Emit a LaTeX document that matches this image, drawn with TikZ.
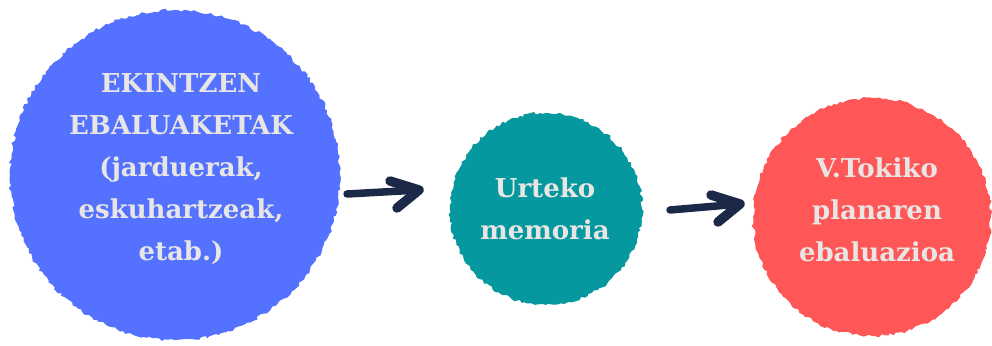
\documentclass[tikz,border=0pt]{standalone}
\usepackage{fontspec}
\newfontfamily\lblfont{DejaVu Serif}
\usetikzlibrary{decorations.pathmorphing}
\definecolor{blobblue}{HTML}{5472FF}
\definecolor{blobteal}{HTML}{05989E}
\definecolor{blobred}{HTML}{FF5757}
\definecolor{inkline}{HTML}{1B2847}
\definecolor{lbltext}{HTML}{E8E6E4}
\tikzset{
  blob/.style={circle, inner sep=0pt, decorate,
    decoration={random steps, segment length=3pt, amplitude=1.6pt}},
  lbl/.style={anchor=north, inner sep=0pt, align=center, text=lbltext,
    font=\lblfont\bfseries\fontsize{26}{42}\selectfont},
  shaft/.style={draw=inkline, line width=7.5pt, line cap=round},
  headline/.style={draw=inkline, line width=9.5pt, line cap=round, line join=round}
}
\begin{document}
\begin{tikzpicture}[x=1pt,y=-1pt]
\pgfmathsetseed{7}
\useasboundingbox (0,0) rectangle (992,345);
% circles
\node[blob, fill=blobblue, minimum size=330pt] (blue) at (175,175) {};
\node[blob, fill=blobteal, minimum size=192pt] (teal) at (546,209) {};
\node[blob, fill=blobred, minimum size=238pt] (red) at (872,217) {};
% labels
\node[lbl] (blueT) at (181,73) {EKINTZEN\\EBALUAKETAK\\(jarduerak,\\eskuhartzeak,\\etab.)};
\node[lbl] (tealT) at (545,178) {Urteko\\memoria};
\node[lbl] (redT) at (877,158) {\fontsize{26}{44}\selectfont V.Tokiko\\planaren\\ebaluazioa};
% arrows
\coordinate (a1s) at (347,194);
\coordinate (a1t) at (419,190);
\coordinate (a2s) at (670,210);
\coordinate (a2t) at (740,204);
\draw[shaft] (a1s) -- (a1t);
\draw[headline] ([shift={(-29,-9)}]a1t) -- (a1t) -- ([shift={(-22,18)}]a1t);
\draw[shaft] (a2s) -- (a2t);
\draw[headline] ([shift={(-29,-9)}]a2t) -- (a2t) -- ([shift={(-22,18)}]a2t);
\end{tikzpicture}
\end{document}
